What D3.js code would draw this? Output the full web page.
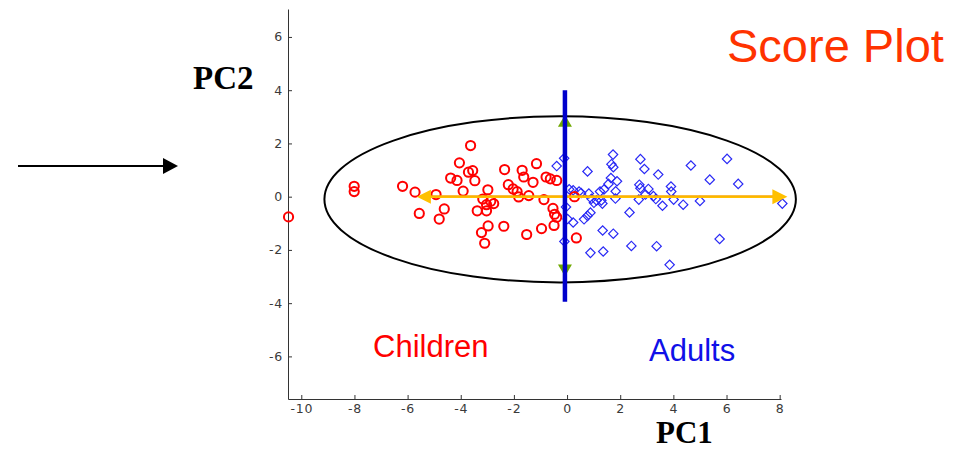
<!DOCTYPE html>
<html>
<head>
<meta charset="utf-8">
<script src="https://cdn.jsdelivr.net/npm/d3@7/dist/d3.min.js"></script>
<style>
  html, body { margin: 0; padding: 0; background: #fff; }
  svg { display: block; }
</style>
</head>
<body>
<svg id="chart" width="965" height="450"></svg>
<script>
// PCA scores: children (red circles) and adults (blue diamonds)
const childrenPC1 = [-10.48,-8.01,-8.01,-6.19,-5.72,-5.56,-4.93,-4.62,-4.81,-3.63,-4.05,-4.38,-4.14,-3.71,-3.55,-3.47,-3.91,-2.98,-3.17,-2.87,-2.76,-3.03,-3.38,-3.03,-2.97,-3.22,-3.10,-2.38,-2.35,-1.69,-1.15,-1.63,-1.28,-0.79,-0.63,-0.39,-2.21,-2.03,-1.88,-1.82,-1.44,-0.87,-0.53,-0.47,-0.39,-0.49,-0.96,-1.52,0.28,0.35];
const childrenPC2 = [-0.76,0.39,0.19,0.39,0.17,-0.63,0.08,-0.46,-0.84,1.92,1.27,0.70,0.61,0.92,0.98,0.60,0.21,0.26,-0.09,-0.17,-0.26,-0.30,-0.53,-0.53,-1.10,-1.35,-1.75,-1.11,1.02,0.99,1.24,0.74,0.54,0.74,0.67,0.61,0.45,0.29,0.19,-0.01,0.04,-0.11,-0.44,-0.66,-0.77,-1.08,-1.20,-1.42,0.00,-1.55];

const adultsPC1 = [-0.39,-0.11,0.77,1.73,1.67,1.74,1.65,1.88,1.56,1.83,1.39,1.24,2.76,2.91,3.43,2.72,2.76,3.06,2.95,3.25,3.34,3.91,3.92,4.01,3.59,2.70,1.82,1.11,1.01,1.33,0.82,0.92,0.45,0.23,0.08,2.35,0.88,0.77,0.64,0.23,0.02,1.34,1.74,2.42,3.37,0.88,1.36,3.86,-0.10,4.66,6.02,5.37,6.44,4.37,5.00,5.74,8.10,-0.04,1.29,0.53];
const adultsPC2 = [1.15,1.44,0.95,1.58,1.22,1.11,0.70,0.58,0.48,0.20,0.27,0.19,1.41,1.04,0.83,0.45,0.32,0.29,0.08,0.02,-0.09,0.38,0.19,-0.11,-0.34,-0.11,-0.07,-0.14,-0.23,-0.26,0.12,-0.08,0.19,0.24,0.28,-0.59,-0.60,-0.72,-0.85,-0.97,-0.84,-1.27,-1.39,-1.85,-1.86,-2.11,-2.06,-2.56,-1.68,1.17,1.42,0.64,0.48,-0.30,-0.16,-1.59,-0.26,-0.39,-0.14,0.14];

// Axis ticks
const xTicks = [-10,-8,-6,-4,-2,0,2,4,6,8];
const yTicks = [-6,-4,-2,0,2,4,6];

// Confidence ellipse (centre and semi-axes in score units)
const ellipseCenter = [-0.26, -0.1];
const ellipseRadii = [8.87, 3.12];

// Loading directions drawn as arrows along each component
const pc1Arrow = [-5.65, 8.29];   // tips along PC1 at PC2 = 0
const pc2Arrow = [3.08, -3.0];    // tips along PC2
const separatorX = -0.08;         // vertical line dividing the groups
const separatorY = [-3.95, 4.0];

const svg = d3.select("#chart");

const x = d3.scaleLinear().domain([-10.5, 8.05]).range([288, 781]);
const y = d3.scaleLinear().domain([-7.6, 7.05]).range([399, 9]);

function styleAxis(g) {
  g.selectAll(".domain, .tick line").attr("stroke", "#333");
  g.selectAll(".tick text")
    .style("font-family", "'DejaVu Sans', sans-serif")
    .style("font-size", "12.5px")
    .style("letter-spacing", "0.8px")
    .style("fill", "#3a3a3a");
}

// Axes (left and bottom only, ticks pointing inward)
svg.append("g")
  .attr("transform", `translate(0,${y(-7.6)})`)
  .call(d3.axisBottom(x).tickValues(xTicks).tickFormat(d => String(d))
        .tickSizeInner(-4).tickSizeOuter(0).tickPadding(5))
  .call(styleAxis);
svg.append("g")
  .attr("transform", `translate(${x(-10.5)},0)`)
  .call(d3.axisLeft(y).tickValues(yTicks).tickFormat(d => String(d))
        .tickSizeInner(-4).tickSizeOuter(0).tickPadding(5))
  .call(styleAxis);

// Ellipse
svg.append("ellipse")
  .attr("cx", x(ellipseCenter[0]))
  .attr("cy", y(ellipseCenter[1]))
  .attr("rx", x(ellipseCenter[0] + ellipseRadii[0]) - x(ellipseCenter[0]))
  .attr("ry", y(ellipseCenter[1]) - y(ellipseCenter[1] + ellipseRadii[1]))
  .attr("fill", "none")
  .attr("stroke", "#000")
  .attr("stroke-width", 2);

// Adults: diamonds
const adults = adultsPC1.map((v, i) => [v, adultsPC2[i]]);
const diamond = d3.symbol().type(d3.symbolSquare).size(44);
svg.append("g").selectAll("path")
  .data(adults).join("path")
  .attr("d", diamond)
  .attr("transform", d => `translate(${x(d[0])},${y(d[1])}) rotate(45)`)
  .attr("fill", "none")
  .attr("stroke", "#2a2af5")
  .attr("stroke-width", 1.2);

// Children: circles
const children = childrenPC1.map((v, i) => [v, childrenPC2[i]]);
svg.append("g").selectAll("circle")
  .data(children).join("circle")
  .attr("cx", d => x(d[0]))
  .attr("cy", d => y(d[1]))
  .attr("r", 4.6)
  .attr("fill", "none")
  .attr("stroke", "#ff0000")
  .attr("stroke-width", 2);

// PC1 loading arrow (horizontal, both directions)
const yc = y(0);
const orange = "#ffc000";
svg.append("line")
  .attr("x1", x(pc1Arrow[0]) + 12).attr("x2", x(pc1Arrow[1]) - 12)
  .attr("y1", yc).attr("y2", yc)
  .attr("stroke", orange).attr("stroke-width", 2.5);
svg.append("line")
  .attr("x1", x(pc1Arrow[0]) + 12).attr("x2", x(pc1Arrow[1]) - 12)
  .attr("y1", yc - 0.8).attr("y2", yc - 0.8)
  .attr("stroke", "#f59a00").attr("stroke-width", 0.8);
const lt = x(pc1Arrow[0]), rt = x(pc1Arrow[1]);
svg.append("path")
  .attr("d", `M${lt},${yc} L${lt + 14},${yc - 7} L${lt + 14},${yc + 7} Z`)
  .attr("fill", orange);
svg.append("path")
  .attr("d", `M${rt},${yc} L${rt - 15},${yc - 7.5} L${rt - 15},${yc + 7.5} Z`)
  .attr("fill", orange);

// PC2 loading arrowheads (green), under the separator line
const sx = x(separatorX);
const tt = y(pc2Arrow[0]), bt = y(pc2Arrow[1]);
svg.append("path")
  .attr("d", `M${sx},${tt} L${sx - 7},${tt + 12} L${sx + 7},${tt + 12} Z`)
  .attr("fill", "#6fa800");
svg.append("path")
  .attr("d", `M${sx},${bt} L${sx - 7},${bt - 12} L${sx + 7},${bt - 12} Z`)
  .attr("fill", "#6fa800");

// Separator
svg.append("line")
  .attr("x1", sx).attr("x2", sx)
  .attr("y1", y(separatorY[0])).attr("y2", y(separatorY[1]))
  .attr("stroke", "#0000cc").attr("stroke-width", 4.5);

// Texts
svg.append("text")
  .attr("x", 727).attr("y", 62)
  .attr("font-family", "Liberation Sans, Arial, sans-serif")
  .attr("font-size", 47).attr("fill", "#ff3300")
  .text("Score Plot");
svg.append("text")
  .attr("x", 373).attr("y", 357)
  .attr("font-family", "Liberation Sans, Arial, sans-serif")
  .attr("font-size", 31).attr("fill", "#ff0000")
  .text("Children");
svg.append("text")
  .attr("x", 649).attr("y", 361)
  .attr("font-family", "Liberation Sans, Arial, sans-serif")
  .attr("font-size", 31).attr("fill", "#1010e8")
  .text("Adults");
svg.append("text")
  .attr("x", 193).attr("y", 89)
  .attr("font-family", "Liberation Serif, Times New Roman, serif")
  .attr("font-weight", "bold")
  .attr("font-size", 33).attr("fill", "#000")
  .text("PC2");
svg.append("text")
  .attr("x", 656).attr("y", 443)
  .attr("font-family", "Liberation Serif, Times New Roman, serif")
  .attr("font-weight", "bold")
  .attr("font-size", 31).attr("fill", "#000")
  .text("PC1");

// Pointer arrow on the left
svg.append("line")
  .attr("x1", 18).attr("x2", 165).attr("y1", 166).attr("y2", 166)
  .attr("stroke", "#000").attr("stroke-width", 1.8);
svg.append("path")
  .attr("d", "M178,166 L163,158 L163,174 Z")
  .attr("fill", "#000");
</script>
</body>
</html>
